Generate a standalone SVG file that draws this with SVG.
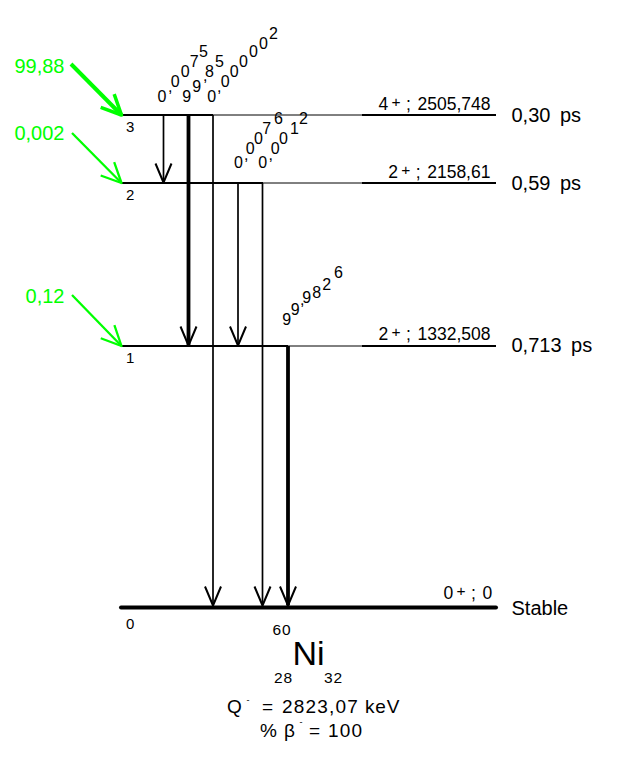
<svg xmlns="http://www.w3.org/2000/svg" width="633" height="771" viewBox="0 0 633 771">
<style>
text{font-family:"Liberation Sans",Arial,sans-serif;fill:#000}
.thk{stroke:#000;stroke-width:2;fill:none}
.thn{stroke:#000;stroke-width:1;fill:none}
.gnd{stroke:#000;stroke-width:4;stroke-linecap:round;fill:none}
.tr{stroke:#000;stroke-width:1.7;fill:none;marker-end:url(#ab)}
.trb{stroke:#000;stroke-width:3.8;fill:none;marker-end:url(#ab)}
.feed{stroke:#00ff00;stroke-width:2.3;fill:none;marker-end:url(#gn)}
.feedb{stroke:#00ff00;stroke-width:4;fill:none;marker-end:url(#gb)}
.gl{font-size:20px;fill:#00ff00;text-anchor:end}
.lv{font-size:15px}
.sp{font-size:17.5px}
.sup{font-size:15.5px}
.lt{font-size:20px;word-spacing:4px}
.dg{font-size:16px}
.nz{font-size:15.5px;letter-spacing:1px}
.eq{font-size:19px}
.num{letter-spacing:1.2px}
</style>
<defs>
<marker id="ab" markerUnits="userSpaceOnUse" markerWidth="24" markerHeight="20" refX="19" refY="8" orient="auto" overflow="visible"><path d="M0,0 L19,8 L0,16" fill="none" stroke="#000" stroke-width="2" stroke-linejoin="round"/></marker>
<marker id="gn" markerUnits="userSpaceOnUse" markerWidth="24" markerHeight="24" refX="20" refY="9.5" orient="auto" overflow="visible"><path d="M0,0 L20,9.5 L0,19" fill="none" stroke="#00ff00" stroke-width="2.3" stroke-linejoin="round"/></marker>
<marker id="gb" markerUnits="userSpaceOnUse" markerWidth="24" markerHeight="24" refX="20" refY="9.5" orient="auto" overflow="visible"><path d="M0,0 L20,9.5 L0,19" fill="none" stroke="#00ff00" stroke-width="3.5" stroke-linejoin="round"/></marker>
</defs>

<g id="level-3">
<path class="thk" d="M121,115 H213"/><path class="thn" d="M213,115 H362"/><path class="thk" d="M362,115 H496"/>
<text class="lv" x="126" y="131.5">3</text>
<text class="sp"><tspan x="378.5" y="110">4</tspan><tspan class="sup" x="391.5" y="107">+</tspan><tspan x="406" y="110">;</tspan><tspan x="417.5" y="110">2505,748</tspan></text>
<text class="lt" x="511.5" y="122">0,30 ps</text>
</g>
<g id="level-2">
<path class="thk" d="M121,183 H263"/><path class="thn" d="M263,183 H362"/><path class="thk" d="M362,183 H496"/>
<text class="lv" x="126" y="200">2</text>
<text class="sp"><tspan x="388.2" y="178">2</tspan><tspan class="sup" x="401.2" y="175">+</tspan><tspan x="415.7" y="178">;</tspan><tspan x="427.2" y="178">2158,61</tspan></text>
<text class="lt" x="511.5" y="190">0,59 ps</text>
</g>
<g id="level-1">
<path class="thk" d="M121,346 H288"/><path class="thn" d="M288,346 H362"/><path class="thk" d="M362,346 H496"/>
<text class="lv" x="126" y="363">1</text>
<text class="sp"><tspan x="378.5" y="340">2</tspan><tspan class="sup" x="391.5" y="337">+</tspan><tspan x="406" y="340">;</tspan><tspan x="417.5" y="340">1332,508</tspan></text>
<text class="lt" x="511.5" y="352">0,713 ps</text>
</g>
<g id="level-0">
<path class="gnd" d="M121,607.5 H496"/>
<text class="lv" x="126" y="629">0</text>
<text class="sp"><tspan x="443.5" y="599">0</tspan><tspan class="sup" x="456.5" y="596">+</tspan><tspan x="471" y="599">;</tspan><tspan x="482.5" y="599">0</tspan></text>
<text class="lt" x="511.5" y="615">Stable</text>
</g>

<g id="connectors">
<path class="tr" d="M163.5,115 V182.5"/>
<path class="trb" d="M188.5,115 V345.5"/>
<path class="tr" d="M213,115 V605.5"/>
<path class="tr" d="M238,183 V345.5"/>
<path class="tr" d="M262.5,183 V605.5"/>
<path class="trb" d="M288,346 V605.5"/>
<path class="feedb" d="M71,64 L121.5,115"/>
<path class="feed" d="M72,133 L121.5,183"/>
<path class="feed" d="M72,295 L121.5,346"/>
</g>

<g id="intensities">
<text class="dg" x="157.5 168 170.7 180.7 189.7 199" y="101.7 92 86.7 76.7 66.5 56.7">0,0075</text>
<text class="dg" x="182.3 192.3 203 205 215" y="101.7 91.7 81 76.7 66.7">99,85</text>
<text class="dg" x="207.3 217 220.7 229.7 239 249 259 269" y="101.7 92 86.7 76.7 66.7 57.3 49 39.3">0,000002</text>
<text class="dg" x="234 244 245.7 254 262.3 274" y="168.3 159.5 154 144 134 124">0,0076</text>
<text class="dg" x="258.3 268.5 270.7 279 290 299" y="168.3 159.5 154 144 134 124">0,0012</text>
<text class="dg" x="282.3 290.7 300 302.3 312.3 322.3 334" y="325 315 305 303.3 298.3 290 278.3">99,9826</text>
</g>

<g id="feeding">
<text class="gl" x="64.5" y="73.3">99,88</text>
<text class="gl" x="64.5" y="140">0,002</text>
<text class="gl" x="64.5" y="303.3">0,12</text>
</g>

<g id="nuclide">
<text class="nz" x="272.5" y="635">60</text>
<text x="292.4" y="665" font-size="34">Ni</text>
<text class="nz" x="274" y="683.3">28</text>
<text class="nz" x="324" y="683.3">32</text>
<text class="eq"><tspan x="227" y="712.7">Q</tspan><tspan x="246.5" y="702.5" font-size="9">-</tspan><tspan x="262" y="712.7">=</tspan><tspan class="num" x="282" y="712.7">2823,07</tspan><tspan x="365" y="712.7" letter-spacing="0.8">keV</tspan></text>
<text class="eq"><tspan x="260" y="736.7">%</tspan><tspan x="284" y="736.7">β</tspan><tspan x="299.5" y="725" font-size="9">-</tspan><tspan x="309" y="736.7">=</tspan><tspan class="num" x="328" y="736.7">100</tspan></text>
</g>
</svg>
